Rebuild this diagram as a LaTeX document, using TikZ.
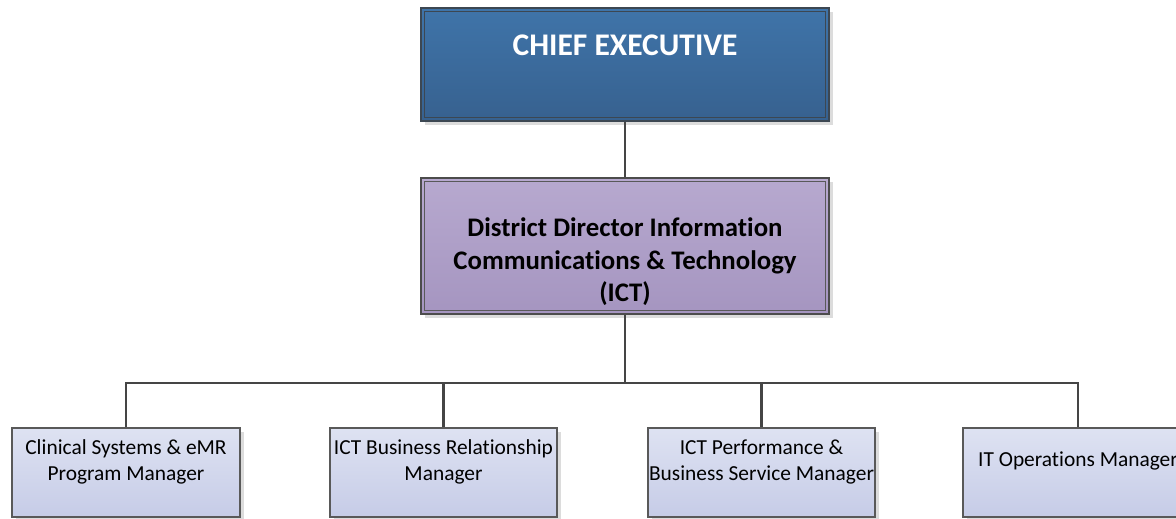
\documentclass[tikz,border=0pt]{standalone}
\usepackage{fontspec}
\setmainfont{Carlito}[Ligatures=NoCommon]
\usetikzlibrary{shadows}
\definecolor{ceotop}{HTML}{3F74A9}
\definecolor{ceobot}{HTML}{37618F}
\definecolor{ddtop}{HTML}{B7A9CF}
\definecolor{ddbot}{HTML}{A595C0}
\definecolor{mgtop}{HTML}{DEE2F2}
\definecolor{mgbot}{HTML}{C6CCE7}
\definecolor{linecol}{HTML}{454545}
\definecolor{ceoline}{HTML}{3C4752}
\definecolor{shadowcol}{HTML}{DCDCDC}
\tikzset{
  boxbase/.style={rectangle, draw=linecol, line width=1.1pt, inner sep=0pt,
    drop shadow={shadow xshift=4pt, shadow yshift=-4pt, fill=shadowcol, opacity=1}},
  ceobox/.style={boxbase, top color=ceotop, bottom color=ceobot, draw=ceoline},
  ddbox/.style={boxbase, top color=ddtop, bottom color=ddbot, draw=black!70},
  mgbox/.style={boxbase, top color=mgtop, bottom color=mgbot, draw=black!65,
    minimum height=89pt},
  innerline/.style={draw=black!65, line width=1pt},
  conn/.style={draw=linecol, line width=2.3pt},
  ceotext/.style={font=\fontsize{31.5}{37}\selectfont\bfseries, text=white, inner sep=0pt},
  ddtext/.style={font=\fontsize{26.8}{32.5}\selectfont\bfseries, text=black, align=center, inner sep=0pt},
  mgtext/.style={font=\fontsize{21.4}{26}\selectfont, text=black, align=center, inner sep=0pt},
}
\begin{document}
\begin{tikzpicture}[x=1pt,y=-1pt]
\useasboundingbox (0,0) rectangle (1176,519);
\clip (0,0) rectangle (1176,519);
\fill[white] (0,0) rectangle (1176,519);

% boxes
\node[ceobox, minimum width=408pt, minimum height=113pt] (ceo) at (625,64.5) {};
\draw[innerline, draw=ceoline] ([shift={(4pt,4pt)}]ceo.south west) rectangle ([shift={(-4pt,-4pt)}]ceo.north east);
\node[ceotext] (ceot) at (625,45.5) {CHIEF EXECUTIVE};

\node[ddbox, minimum width=408pt, minimum height=136pt] (dd) at (625,246) {};
\draw[innerline] ([shift={(4pt,4pt)}]dd.south west) rectangle ([shift={(-4pt,-4pt)}]dd.north east);
\node[ddtext] (ddt) at (625,262) {District Director Information\\Communications \& Technology\\(ICT)};

\node[mgbox, minimum width=228pt] (b1) at (126,472.5) {};
\node[mgbox, minimum width=227pt] (b2) at (443.5,472.5) {};
\node[mgbox, minimum width=227pt] (b3) at (761.5,472.5) {};
\node[mgbox, minimum width=230pt] (b4) at (1078,472.5) {};

\node[mgtext] (b1t) at (126,462) {Clinical Systems \& eMR\\Program Manager};
\node[mgtext] (b2t) at (443.5,462) {ICT Business Relationship\\Manager};
\node[mgtext] (b3t) at (761.5,462) {ICT Performance \&\\Business Service Manager};
\node[mgtext] (b4t) at (1078,461) {IT Operations Manager};

% connectors
\coordinate (bus) at (625,383);
\draw[conn] (ceo.south) -- (dd.north);
\draw[conn] (dd.south) -- (bus);
\draw[conn] (b1.north) |- (bus) -| (b4.north);
\draw[conn] (b2.north) -- (b2.north |- bus);
\draw[conn] (b3.north) -- (b3.north |- bus);
\end{tikzpicture}
\end{document}
